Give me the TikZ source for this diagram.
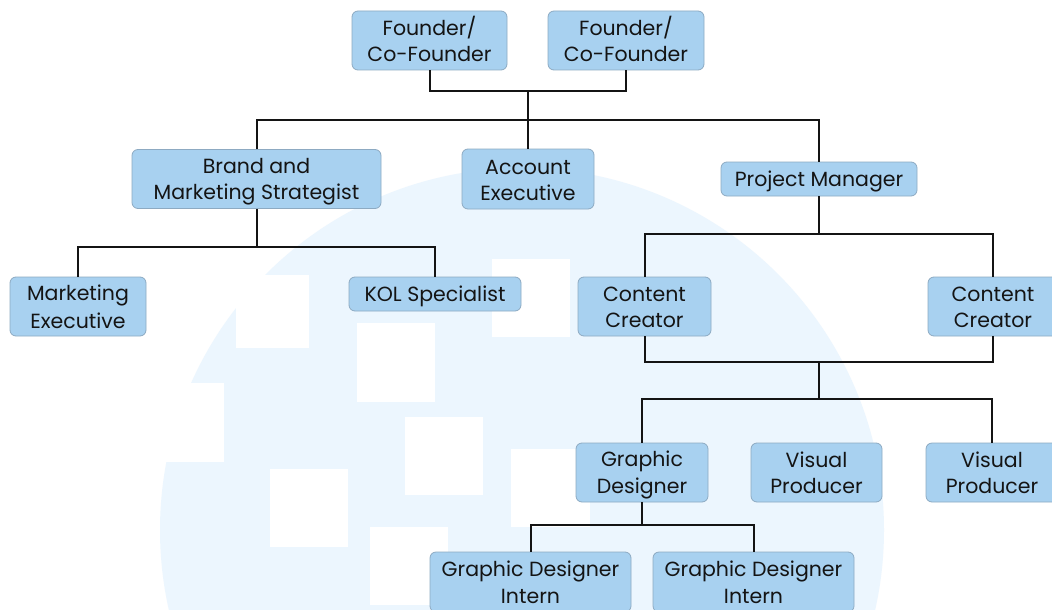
\documentclass[tikz,border=0pt]{standalone}
\usepackage{fontspec}
\setmainfont{Poppins}
\definecolor{boxfill}{HTML}{A8D1F0}
\definecolor{boxline}{HTML}{8DAAC2}
\definecolor{bgcirc}{HTML}{ECF6FE}
\definecolor{ink}{HTML}{141414}
\newcommand\Ls{\rule[-5pt]{0pt}{26pt}}
\begin{document}
\begin{tikzpicture}[x=1pt,y=-1pt,
  role/.style={draw=boxline,line width=0.8pt,fill=boxfill,rounded corners=6pt,
    align=center,inner sep=0pt,text=ink,font=\fontsize{20.5}{26}\selectfont},
  twoline/.style={role,minimum height=59pt},
  oneline/.style={role,minimum height=34pt},
  link/.style={draw=ink,line width=2pt},
  sq/.style={fill=white,draw=none}]
\useasboundingbox (0,0) rectangle (1052,610);
% background
\fill[white] (0,0) rectangle (1052,610);
\begin{scope}
\clip (0,0) rectangle (1052,610);
\fill[bgcirc] (522,530) circle[radius=362];
\fill[sq] (236,275) rectangle (309,348);
\fill[sq] (357,323) rectangle (435,402);
\fill[sq] (492,259) rectangle (570,337);
\fill[sq] (405,417) rectangle (483,495);
\fill[sq] (511,449) rectangle (590,527);
\fill[sq] (270,469) rectangle (348,547);
\fill[sq] (370,527) rectangle (448,605);
\fill[sq] (150,383) rectangle (224,462);
\end{scope}
% nodes
\node[twoline,minimum width=155pt] (F1) at (429.5,40.5) {\Ls Founder/\\\Ls Co-Founder};
\node[twoline,minimum width=156pt] (F2) at (626,40.5) {\Ls Founder/\\\Ls Co-Founder};
\node[twoline,minimum width=249pt] (BM) at (256.5,179) {\Ls Brand and\\\Ls Marketing Strategist};
\node[twoline,minimum width=132pt,minimum height=60pt] (AE) at (528,179) {\Ls Account\\\Ls Executive};
\node[oneline,minimum width=196pt] (PM) at (819,179) {\Ls Project Manager};
\node[twoline,minimum width=136pt] (ME) at (78,306.5) {\Ls Marketing\\\Ls Executive};
\node[oneline,minimum width=172pt] (KOL) at (435,294) {\Ls KOL Specialist};
\node[twoline,minimum width=133pt] (CC1) at (644.5,306.5) {\Ls Content\\\Ls Creator};
\node[twoline,minimum width=130pt] (CC2) at (993,306.5) {\Ls Content\\\Ls Creator};
\node[twoline,minimum width=132pt] (GD) at (642,472.5) {\Ls Graphic\\\Ls Designer};
\node[twoline,minimum width=131pt] (VP1) at (816.5,472.5) {\Ls Visual\\\Ls Producer};
\node[twoline,minimum width=132pt] (VP2) at (992,472.5) {\Ls Visual\\\Ls Producer};
\node[twoline,minimum width=201pt,minimum height=60pt] (GI1) at (530.5,582) {\Ls Graphic Designer\\\Ls Intern};
\node[twoline,minimum width=201pt,minimum height=60pt] (GI2) at (753.5,582) {\Ls Graphic Designer\\\Ls Intern};
% junctions
\coordinate (j1) at (528,91);
\coordinate (j2) at (528,120);
\coordinate (j3) at (256.5,247);
\coordinate (j4) at (819,234);
\coordinate (j5) at (819,362);
\coordinate (j6) at (819,399);
\coordinate (j7) at (642,525);
% connectors
\draw[link] (F1.south) |- (j1) -| (F2.south);
\draw[link] (j1) -- (AE.north);
\draw[link] (BM.north) |- (j2) -| (PM.north);
\draw[link] (BM.south) -- (j3);
\draw[link] (ME.north) |- (j3) -| (KOL.north);
\draw[link] (PM.south) -- (j4);
\draw[link] (CC1.north) |- (j4) -| (CC2.north);
\draw[link] (CC1.south) |- (j5) -| (CC2.south);
\draw[link] (j5) -- (j6);
\draw[link] (GD.north) |- (j6) -| (VP2.north);
\draw[link] (GD.south) -- (j7);
\draw[link] (GI1.north) |- (j7) -| (GI2.north);
\end{tikzpicture}
\end{document}
